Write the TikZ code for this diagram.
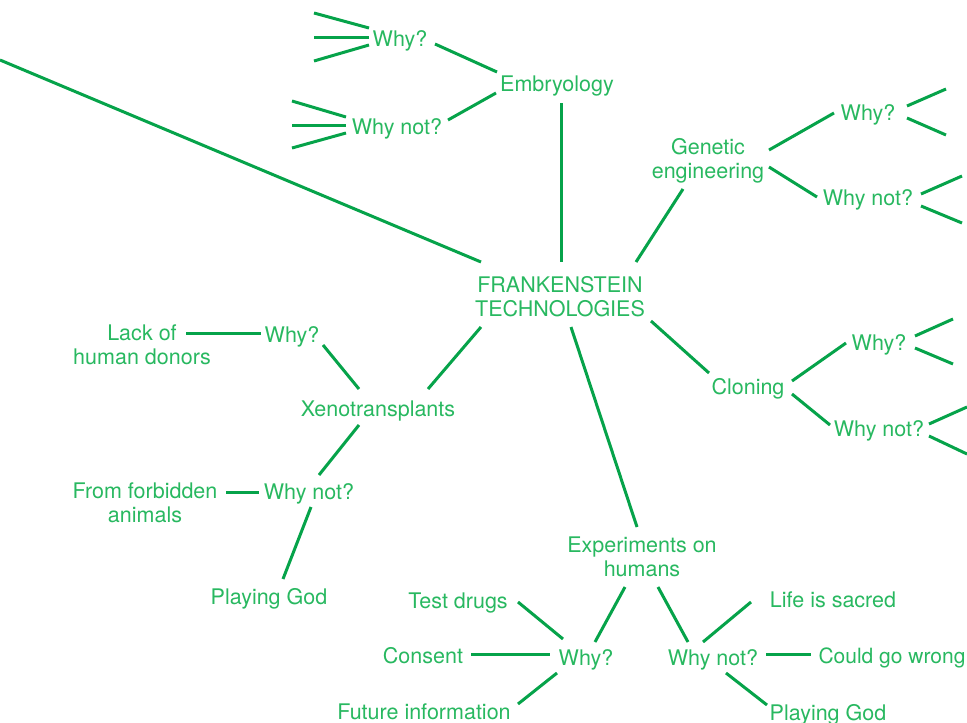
\documentclass[tikz,border=0pt]{standalone}
\usepackage{fontspec}
\setmainfont{TeX Gyre Heros}
\definecolor{txtgreen}{RGB}{40,184,96}
\definecolor{lngreen}{RGB}{6,163,74}
\newcommand\cn[4]{\draw ([shift={#2}]#1.center) -- ([shift={#4}]#3.center);}
\newcommand\cw[4]{\draw ([shift={#2}]#1) -- ([shift={#4}]#3);}
\begin{document}
\begin{tikzpicture}[x=1pt,y=-1pt,
  lbl/.style={text=txtgreen,inner sep=0pt,align=center,font=\fontsize{21.5}{24}\selectfont},
  one/.style={lbl,text height=20.8pt,text depth=4.7pt},
  color=lngreen,line width=3pt]
\useasboundingbox (0,0) rectangle (967,723);
\clip (0,0) rectangle (967,723);
% nodes
\node[lbl] (ctr) at (560,297) {FRANKENSTEIN\\TECHNOLOGIES};
\node[one] (emb) at (557,83) {Embryology};
\node[one] (ewhy) at (400,38) {Why?};
\node[one] (ewhynot) at (397,126) {Why not?};
\node[lbl] (gen) at (708,161) {Genetic\\engineering};
\node[one] (gwhy) at (868,112) {Why?};
\node[one] (gwhynot) at (868,197) {Why not?};
\node[one] (clo) at (748,386) {Cloning};
\node[one] (cwhy) at (879,342) {Why?};
\node[one] (cwhynot) at (879,428) {Why not?};
\node[one] (xeno) at (378,408) {Xenotransplants};
\node[one] (xwhy) at (292,334) {Why?};
\node[lbl] (lack) at (142,345) {Lack of\\human donors};
\node[one] (xwhynot) at (309,491) {Why not?};
\node[lbl] (forb) at (145,503) {From forbidden\\animals};
\node[one] (xgod) at (269,596) {Playing God};
\node[lbl] (exp) at (642,557) {Experiments on\\humans};
\node[one] (hwhy) at (586,657) {Why?};
\node[one] (hwhynot) at (713,657) {Why not?};
\node[one] (test) at (458,600) {Test drugs};
\node[one] (consent) at (423,655) {Consent};
\node[one] (future) at (424,711) {Future information};
\node[one] (life) at (833,599) {Life is sacred};
\node[one,anchor=west,font=\fontsize{21}{24}\selectfont] (wrong) at (817,655) {Could go wrong};
\node[one] (hgod) at (828,712) {Playing God};
% free ends
\coordinate (tl) at (0,60);
\coordinate (e1) at (314,13); \coordinate (e2) at (314,37); \coordinate (e3) at (314,61);
\coordinate (e4) at (292,101); \coordinate (e5) at (292,125); \coordinate (e6) at (292,148);
\coordinate (g1) at (946,89); \coordinate (g2) at (946,135);
\coordinate (g3) at (962,176); \coordinate (g4) at (962,223);
\coordinate (c1) at (953,319); \coordinate (c2) at (953,364);
\coordinate (c3) at (967,407); \coordinate (c4) at (967,454);
% connectors
\draw (tl) -- ([shift={(-79,-35)}]ctr.center);
\cn{emb}{(4,20)}{ctr}{(1,-35)}
\cn{emb}{(-60,-11)}{ewhy}{(35,6)}
\cn{emb}{(-61,10)}{ewhynot}{(51,-6)}
\draw ([shift={(-31,-10)}]ewhy.center) -- (e1);
\draw ([shift={(-31,-1)}]ewhy.center) -- (e2);
\draw ([shift={(-31,7)}]ewhy.center) -- (e3);
\draw ([shift={(-51,-9)}]ewhynot.center) -- (e4);
\draw ([shift={(-51,-1)}]ewhynot.center) -- (e5);
\draw ([shift={(-51,7)}]ewhynot.center) -- (e6);
\cn{ctr}{(76,-35)}{gen}{(-25,28)}
\cn{gen}{(61,-11)}{gwhy}{(-34,1)}
\cn{gen}{(61,6)}{gwhynot}{(-51,0)}
\draw ([shift={(39,-6)}]gwhy.center) -- (g1);
\draw ([shift={(39,6)}]gwhy.center) -- (g2);
\draw ([shift={(53,-3)}]gwhynot.center) -- (g3);
\draw ([shift={(53,9)}]gwhynot.center) -- (g4);
\cn{ctr}{(91,24)}{clo}{(-39,-13)}
\cn{clo}{(44,-5)}{cwhy}{(-33,1)}
\cn{clo}{(44,8)}{cwhynot}{(-49,-3)}
\draw ([shift={(36,-6)}]cwhy.center) -- (c1);
\draw ([shift={(36,6)}]cwhy.center) -- (c2);
\draw ([shift={(50,-4)}]cwhynot.center) -- (c3);
\draw ([shift={(50,8)}]cwhynot.center) -- (c4);
\cn{ctr}{(-79,30)}{xeno}{(50,-19)}
\cn{xeno}{(-19,-19)}{xwhy}{(31,11)}
\cn{lack}{(44,-12)}{xwhy}{(-31,-1)}
\cn{xeno}{(-19,17)}{xwhynot}{(10,-16)}
\cn{forb}{(81,-11)}{xwhynot}{(-50,1)}
\cn{xwhynot}{(2,16)}{xgod}{(14,-17)}
\cn{ctr}{(11,30)}{exp}{(-5,-30)}
\cn{exp}{(-17,30)}{hwhy}{(9,-15)}
\cn{exp}{(16,30)}{hwhynot}{(-25,-15)}
\cn{test}{(60,2)}{hwhy}{(-23,-18)}
\cn{consent}{(48,-1)}{hwhy}{(-36,-3)}
\cn{future}{(94,-7)}{hwhy}{(-29,16)}
\cn{hwhynot}{(-10,-15)}{life}{(-82,3)}
\cw{hwhynot.center}{(53,-3)}{wrong.west}{(-6,-1)}
\cn{hwhynot}{(13,16)}{hgod}{(-61,-7)}
\end{tikzpicture}
\end{document}
